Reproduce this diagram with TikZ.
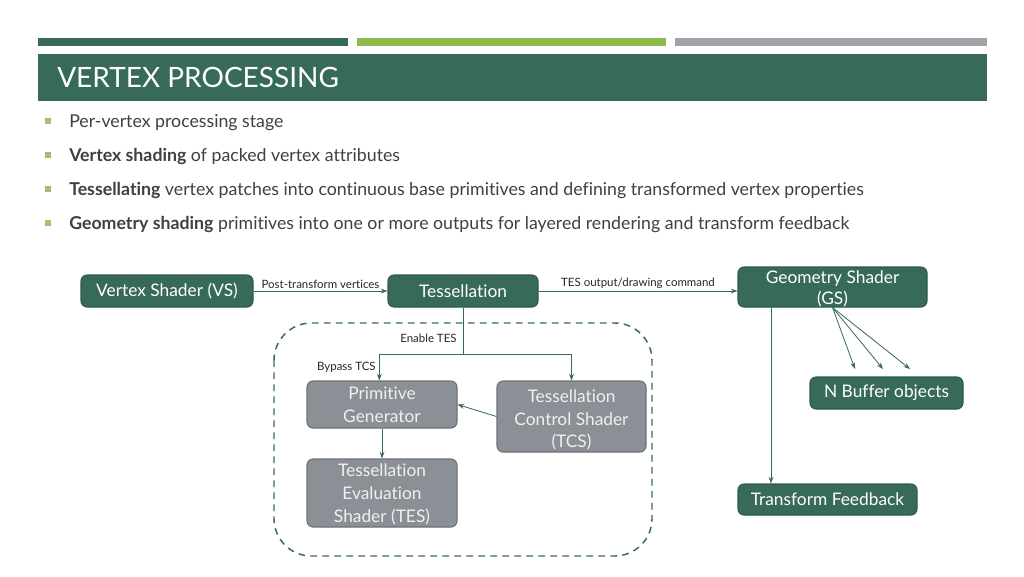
\documentclass[tikz,border=0pt]{standalone}
\usepackage{fontspec}
\setmainfont{Lato}[Ligatures=NoCommon]
\usetikzlibrary{arrows.meta}
\definecolor{dgreen}{HTML}{386A58}
\definecolor{lgreen}{HTML}{8DBA4C}
\definecolor{bargray}{HTML}{A0A4A8}
\definecolor{boxgray}{HTML}{8A9096}
\definecolor{boxgrayline}{HTML}{6C7378}
\definecolor{txt}{HTML}{404040}
\definecolor{bul}{HTML}{9CC46A}
\tikzset{
  sz/.style 2 args={minimum width=#1*0.75pt, minimum height=#2*0.75pt},
  gbox/.style={draw=dgreen!85!black, fill=dgreen, rounded corners=4.5pt, text=white, line width=0.8pt, inner sep=0pt, align=center, font=\fontsize{13}{17}\selectfont},
  ybox/.style={draw=boxgrayline, fill=boxgray, rounded corners=4.5pt, text=white!94!black, line width=0.8pt, inner sep=0pt, align=center, font=\fontsize{13}{17}\selectfont},
  arr/.style={draw=dgreen, line width=0.6pt, -{Stealth[length=5pt,width=3.6pt]}},
  conn/.style={draw=dgreen, line width=0.6pt},
  lbl/.style={font=\fontsize{8.6}{10}\selectfont, text=black!85, inner sep=1.5pt},
  bullettxt/.style={anchor=base west, inner sep=0pt, text=txt, font=\fontsize{13.3}{15}\selectfont},
  bulletsq/.style={fill=bul, draw=none},
}
\begin{document}
\begin{tikzpicture}[x=0.75pt, y=-0.75pt]
\useasboundingbox (0,0) rectangle (1024,576);
\fill[white] (0,0) rectangle (1024,576);
% top bars
\fill[dgreen] (38,38) rectangle (348,46);
\fill[lgreen] (357,38) rectangle (666,46);
\fill[bargray] (675,38) rectangle (987,46);
% title band
\fill[dgreen] (38,54) rectangle (987,101);
\node[anchor=base west, inner sep=0pt, text=white, font=\fontsize{21}{24}\selectfont] (title) at (57,87) {VERTEX PROCESSING};
% bullets
\fill[bulletsq] (45,118) rectangle (51,124);
\fill[bulletsq] (45,152) rectangle (51,158);
\fill[bulletsq] (45,186) rectangle (51,192);
\fill[bulletsq] (45,220) rectangle (51,226);
\node[bullettxt] (b1) at (69,127) {Per-vertex processing stage};
\node[bullettxt] (b2) at (69,161) {\textbf{Vertex shading} of packed vertex attributes};
\node[bullettxt] (b3) at (69,195) {\textbf{Tessellating} vertex patches into continuous base primitives and defining transformed vertex properties};
\node[bullettxt] (b4) at (69,229) {\textbf{Geometry shading} primitives into one or more outputs for layered rendering and transform feedback};
% dashed group
\draw[dgreen, line width=1.1pt, dash pattern=on 5pt off 4pt, rounded corners=28pt] (274,323) rectangle (652,556);
% nodes
\node[gbox, sz={172}{32}] (vs) at (167,291) {Vertex Shader (VS)};
\node[gbox, sz={150}{32}] (tess) at (463,291) {Tessellation};
\node[gbox, sz={189}{40}] (gs) at (832.5,287) {\smash{\raisebox{-5pt}{\begin{tabular}{@{}c@{}}Geometry Shader\\[-1pt](GS)\end{tabular}}}};
\node[ybox, sz={150}{47}] (pg) at (382,404.5) {Primitive\\Generator};
\node[ybox, sz={149}{71}] (tcs) at (571.5,416.5) {\smash{\raisebox{-6pt}{\begin{tabular}{@{}c@{}}Tessellation\\Control Shader\\(TCS)\end{tabular}}}};
\node[ybox, sz={150}{68}] (tes) at (382,493) {\smash{\raisebox{-4.5pt}{\begin{tabular}{@{}c@{}}Tessellation\\Evaluation\\Shader (TES)\end{tabular}}}};
\node[gbox, sz={153}{32}] (nb) at (886.5,393) {N Buffer objects};
\node[gbox, sz={179}{31}] (tf) at (827.5,499.5) {Transform Feedback};
% connectors
\draw[arr] (vs.east) -- node[lbl, above] {Post-transform vertices} (tess.west);
\draw[arr] (tess.east) -- node[lbl, above] {TES output/drawing command} (tess.east -| gs.west);
\coordinate (split) at (463,354);
\draw[conn] (tess.south) -- node[lbl, left, pos=0.66, xshift=-3pt] {Enable TES} (split);
\draw[arr] (split) -| node[lbl, pos=0.5, below left, yshift=-4.5pt, xshift=-1pt] {Bypass TCS} ([xshift=-2pt]pg.north);
\draw[arr] (split) -| (tcs.north);
\draw[arr] (tcs.west) -- (pg.east);
\draw[arr] (pg.south) -- (tes.north);
\coordinate (gsl) at (771,307);
\draw[arr] (gsl) -- (gsl |- tf.north);
\coordinate (f1) at (855,369);
\coordinate (f2) at (883,369);
\coordinate (f3) at (910,369);
\draw[arr] (gs.south) -- (f1);
\draw[arr] (gs.south) -- (f2);
\draw[arr] (gs.south) -- (f3);
\end{tikzpicture}
\end{document}
